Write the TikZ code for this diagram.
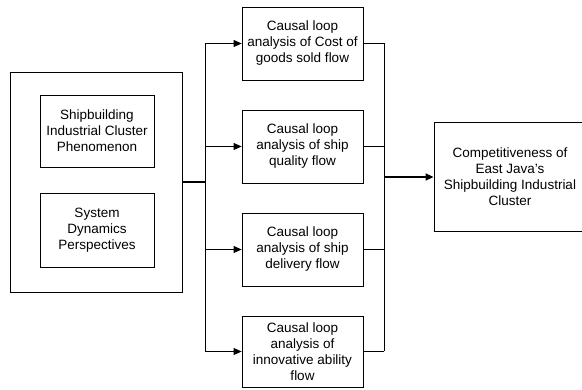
\documentclass[tikz,border=0pt]{standalone}
\usepackage{fontspec}
\setmainfont{Liberation Sans}
\usetikzlibrary{arrows.meta}

\begin{document}
\begin{tikzpicture}[x=1pt,y=-1pt,
  line width=0.8pt,
  every node/.style={font=\fontsize{13.5}{16}\selectfont, align=center, inner sep=0pt},
  box/.style={draw, rectangle, minimum width=#1},
  flowarrow/.style={-{Triangle[length=8pt,width=7pt]}},
  busline/.style={line width=1.5pt}
]
\useasboundingbox (0,0) rectangle (582,390);
\clip (0,0) rectangle (582,390);

% left group: outer frame with two inner boxes
\node[box=172pt, minimum height=220pt] (outer) at (96,182) {};
\node[box=114pt, minimum height=72pt] (phen) at (97,131)
  {Shipbuilding\\Industrial Cluster\\Phenomenon};
\node[box=114pt, minimum height=74pt] (sd) at (97,230)
  {System\\Dynamics\\Perspectives};

% four causal loop analyses
\node[box=121pt, minimum height=73pt] (c1) at (302.5,43.5)
  {Causal loop\\analysis of Cost of\\goods sold flow};
\node[box=121pt, minimum height=73pt] (c2) at (302.5,146.5)
  {Causal loop\\analysis of ship\\quality flow};
\node[box=121pt, minimum height=73pt] (c3) at (302.5,249.5)
  {Causal loop\\analysis of ship\\delivery flow};
\node[box=121pt, minimum height=71pt] (c4) at (302.5,351.5)
  {Causal loop\\analysis of\\innovative ability\\flow};

% result box, its right side runs past the page edge
\node[box=160pt, minimum height=109pt] (comp) at (514,176.5) {};
\node (comptext) at (510,176.5)
  {Competitiveness of\\East Java's\\Shipbuilding Industrial\\Cluster};

% split and join points
\coordinate (split) at (205,182);
\coordinate (join) at (384,177);

\draw[busline] (outer.east) -- (split);
\draw (split) -- (split |- c1.west);
\draw (split) -- (split |- c4.west);
\foreach \c in {c1,c2,c3,c4} {
  \draw[flowarrow] (split |- \c.west) -- (\c.west);
  \draw (\c.east) -- (join |- \c.east);
}
\draw (join |- c1.east) -- (join |- c4.east);
\draw[busline, flowarrow] (join) -- (join -| comp.west);
\end{tikzpicture}
\end{document}
